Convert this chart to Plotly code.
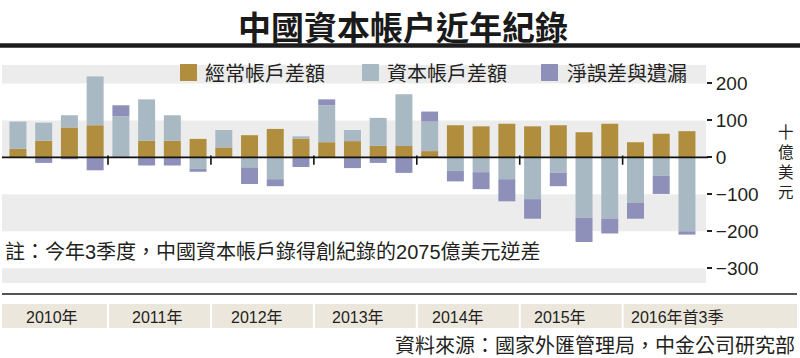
import plotly.graph_objects as go

# ---- data (billion USD, quarterly 2010Q1 - 2016Q3) ----
quarters = [f"{y}Q{q}" for y in range(2010, 2017) for q in range(1, 5)][:27]
current_acct = [23, 45, 81, 87, 0, 45, 45, 50, 27, 60, 77, 51, 41, 44, 31, 31,
                17, 87, 84, 91, 84, 87, 68, 91, 41, 64, 71]
capital_acct = [74, 49, 33, 132, 111, 112, 69, -31, 47, -27, -59, 6, 100, 30, 76, 140,
                80, -37, -40, -59, -113, -42, -163, -166, -123, -50, -200]
errors_omis = [0, -15, -5, -35, 30, -22, -22, -8, 0, -45, -19, -26, 16, -29, -15, -42,
               27, -28, -46, -60, -53, -36, -66, -40, -43, -49, -9]
year_labels = ["2010年", "2011年", "2012年", "2013年", "2014年", "2015年", "2016年首3季"]
year_boundaries = [3.5, 7.5, 11.5, 15.5, 19.5, 23.5]
y_ticks = [200, 100, 0, -100, -200, -300]

series_names = ["經常帳戶差額", "資本帳戶差額", "淨誤差與遺漏"]
colors = ["#b08e3e", "#a9b9c3", "#8f90ba"]

W, H = 800, 358
L, R, T, B = 2, 94, 65, 75
PW, PH = W - L - R, H - T - B


def px(x):
    return (x - L) / PW


def py(y):
    return (H - B - y) / PH


CJK = "Noto Sans CJK TC"
LAT = "Liberation Sans, Noto Sans CJK TC"
TXT = "#231f20"

fig = go.Figure()
for name, vals, c in zip(series_names, [current_acct, capital_acct, errors_omis], colors):
    fig.add_trace(go.Bar(x=quarters, y=vals, name=name, marker=dict(color=c, line=dict(width=0)),
                         width=0.66, showlegend=False))

shapes = []
# alternating background bands
for y0, y1 in [(200, 250), (0, 100), (-200, -100), (-340, -300)]:
    shapes.append(dict(type="rect", xref="paper", yref="y", x0=0, x1=1, y0=y0, y1=y1,
                       fillcolor="#ececec", line=dict(width=0), layer="below"))
# zero line
shapes.append(dict(type="line", xref="paper", yref="y", x0=0, x1=px(708), y0=0, y1=0,
                   line=dict(color="#111", width=1.6), layer="above"))
# year separator ticks on zero line
for xb in year_boundaries:
    shapes.append(dict(type="line", xref="x", yref="y", x0=xb, x1=xb, y0=5, y1=-20,
                       line=dict(color="#111", width=1.6), layer="above"))
# title rule
shapes.append(dict(type="line", xref="paper", yref="paper", x0=px(0), x1=px(800),
                   y0=py(45.5), y1=py(45.5), line=dict(color="#1c1c1c", width=4.5)))
# bottom rule
shapes.append(dict(type="line", xref="paper", yref="paper", x0=px(2), x1=px(797),
                   y0=py(294), y1=py(294), line=dict(color="#1c1c1c", width=1.6)))
# year band
shapes.append(dict(type="rect", xref="paper", yref="paper", x0=px(2), x1=px(797),
                   y0=py(328), y1=py(304), fillcolor="#ebe7dc", line=dict(width=0)))
for xb in year_boundaries:
    shapes.append(dict(type="line", xref="x", yref="paper", x0=xb, x1=xb,
                       y0=py(328), y1=py(304), line=dict(color="white", width=2)))

# manual legend
leg_sq = [(180, 197), (362, 379), (541, 558)]
leg_tx = [205, 387, 567]
annotations = []
for (a, b), tx, c, name in zip(leg_sq, leg_tx, colors, series_names):
    shapes.append(dict(type="rect", xref="paper", yref="paper", x0=px(a), x1=px(b),
                       y0=py(81), y1=py(64), fillcolor=c, line=dict(width=0)))
    annotations.append(dict(x=px(tx - 2), y=py(72.5), xref="paper", yref="paper", text=name,
                            showarrow=False, xanchor="left", yanchor="middle",
                            font=dict(family=CJK, size=20, color=TXT)))

# title
annotations.append(dict(x=px(403), y=py(0), xref="paper", yref="paper",
                        text="<b>中國資本帳户近年紀錄</b>", showarrow=False,
                        xanchor="center", yanchor="top",
                        font=dict(family=CJK, size=33, color="#1a1a1a")))
# note
annotations.append(dict(x=px(3), y=py(252), xref="paper", yref="paper",
                        text="註：今年3季度，中國資本帳戶錄得創紀錄的2075億美元逆差",
                        showarrow=False, xanchor="left", yanchor="middle",
                        font=dict(family=LAT, size=20, color=TXT)))
# source
annotations.append(dict(x=px(797), y=py(344), xref="paper", yref="paper",
                        text="資料來源：國家外匯管理局，中金公司研究部",
                        showarrow=False, xanchor="right", yanchor="middle",
                        font=dict(family=CJK, size=20, color=TXT)))
# y-axis unit, stacked vertically
annotations.append(dict(x=px(786), y=py(161), xref="paper", yref="paper",
                        text="十<br>億<br>美<br>元", showarrow=False,
                        xanchor="center", yanchor="middle",
                        font=dict(family=CJK, size=15.5, color=TXT)))
# year labels
year_px = [52, 157, 257, 358, 458, 560, 677]
for lab, xp in zip(year_labels, year_px):
    annotations.append(dict(x=px(xp), y=py(317), xref="paper", yref="paper", text=lab,
                            showarrow=False, xanchor="center", yanchor="middle",
                            font=dict(family=LAT, size=16, color=TXT)))

fig.update_layout(
    width=W, height=H, autosize=False,
    margin=dict(l=L, r=R, t=T, b=B, pad=0),
    paper_bgcolor="white", plot_bgcolor="white",
    barmode="relative", bargap=0.34,
    xaxis=dict(range=[-0.62, 26.74], showticklabels=False, showgrid=False,
               zeroline=False, showline=False, ticks=""),
    yaxis=dict(range=[-340, 250], side="right", tickvals=y_ticks,
               ticks="outside", ticklen=5, tickwidth=1.5, tickcolor="#231f20",
               showgrid=False, zeroline=False, showline=False,
               tickfont=dict(family=LAT, size=19, color=TXT)),
    shapes=shapes, annotations=annotations,
)

fig.write_html("out.html", config={"displayModeBar": False},
               post_script="document.body.style.margin='0';document.body.style.overflow='hidden';")
